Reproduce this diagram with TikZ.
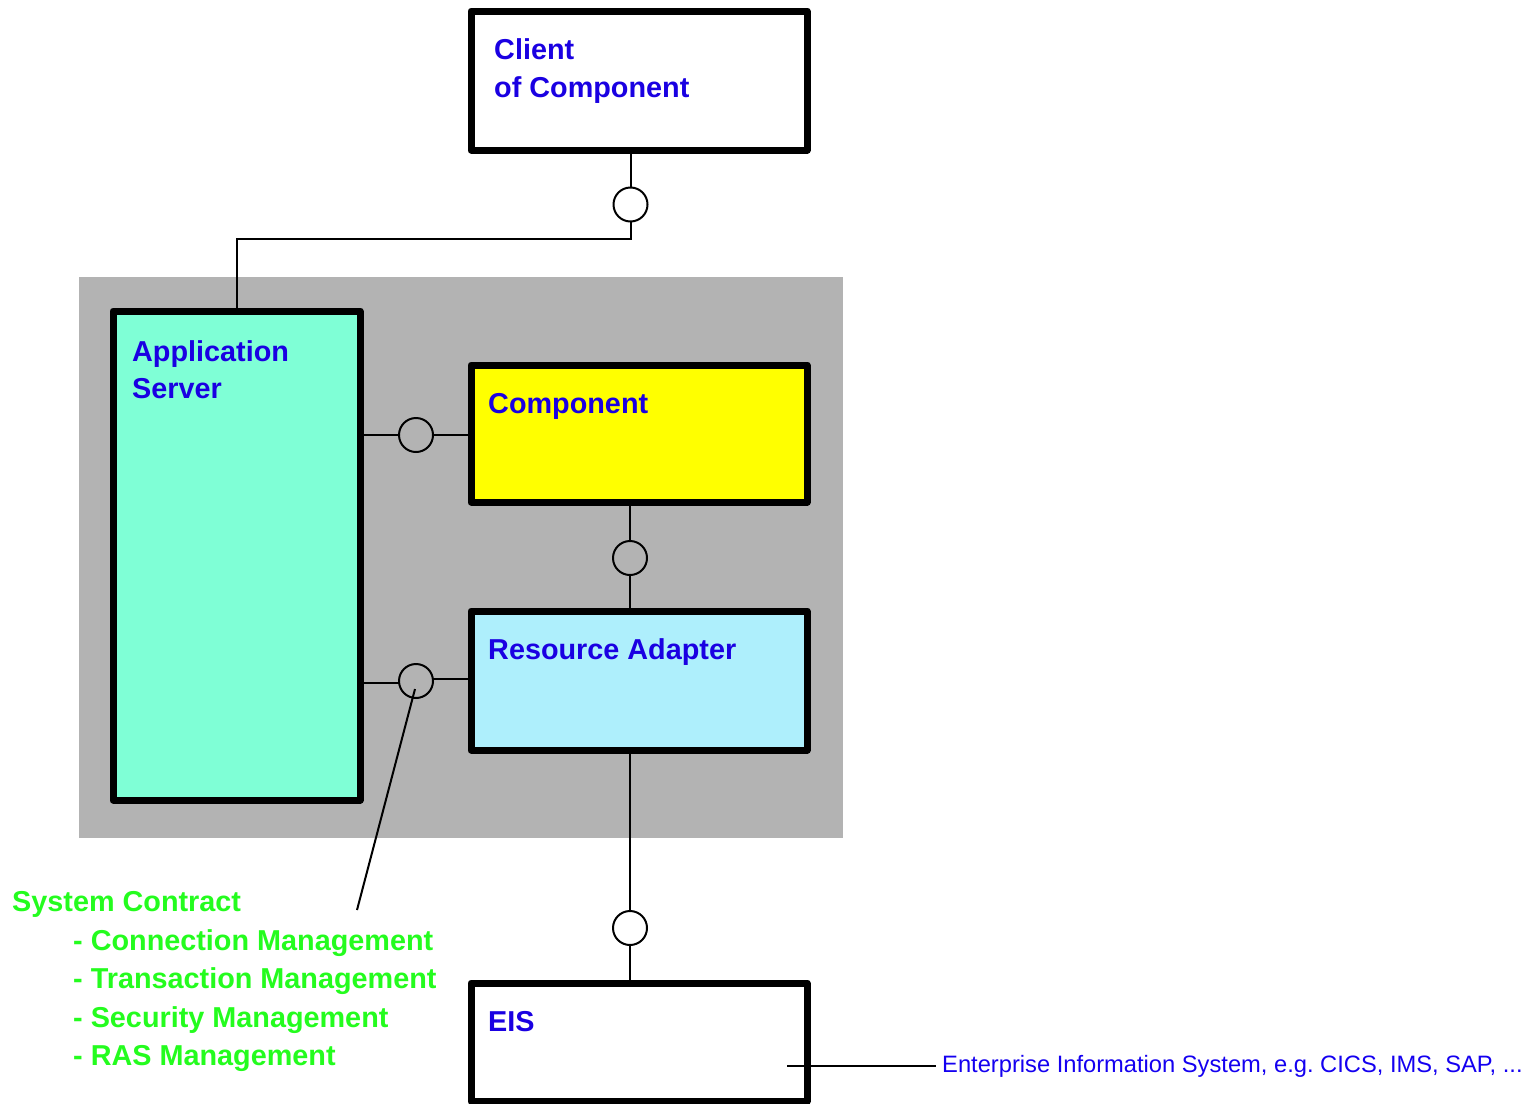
\documentclass[tikz,border=0pt]{standalone}
\usepackage{fontspec}
\setmainfont{Liberation Sans}
\frenchspacing
\definecolor{labelblue}{RGB}{26,0,226}
\definecolor{notegreen}{RGB}{36,252,30}
\definecolor{notelink}{RGB}{20,0,240}
\definecolor{panelgray}{RGB}{179,179,179}
\definecolor{serverfill}{RGB}{127,255,214}
\definecolor{adapterfill}{RGB}{174,239,252}
\definecolor{compfill}{RGB}{255,255,0}
\begin{document}
\begin{tikzpicture}[x=1pt,y=-1pt,
  unitbox/.style={draw=black,line width=7pt,line join=round,rectangle,inner sep=0pt,outer sep=0pt},
  iface/.style={draw=black,line width=2pt,circle,minimum size=34pt,inner sep=0pt,outer sep=0pt},
  wire/.style={draw=black,line width=2pt},
  boxlabel/.style={anchor=base west,inner sep=0pt,text=labelblue,font=\fontsize{28.8}{38}\selectfont\bfseries},
  contract/.style={anchor=base west,inner sep=0pt,text=notegreen,font=\fontsize{28.8}{38}\selectfont\bfseries}
]
\useasboundingbox (0,0) rectangle (1538,1103);

% container panel
\fill[panelgray] (79,277) rectangle (843,838);

% boxes (path centres)
\node[unitbox,fill=white,minimum width=336pt,minimum height=139pt] (client) at (639,80.5) {};
\node[unitbox,fill=serverfill,minimum width=247pt,minimum height=489pt] (app) at (236.5,555.5) {};
\node[unitbox,fill=compfill,minimum width=336pt,minimum height=137pt] (comp) at (639,433.5) {};
\node[unitbox,fill=adapterfill,minimum width=336pt,minimum height=139pt] (ra) at (639,680.5) {};
\node[unitbox,fill=white,minimum width=336pt,minimum height=118pt] (eis) at (639,1042) {};

% interfaces
\node[iface] (c1) at (630.5,204.5) {};
\node[iface] (c2) at (416,435) {};
\node[iface] (c3) at (630,558) {};
\node[iface] (c4) at (416,681) {};
\node[iface] (c5) at (630,928) {};

\coordinate (bend) at (237,239);
\coordinate (callout) at (357,910);

% connectors
\draw[wire] (c1.north) -- (c1.north |- client.south);
\draw[wire] (c1.south) -- (c1.south |- bend) -- (bend) -- ([yshift=-3.5pt]bend |- app.north);
\draw[wire] (c2.west) -- ([xshift=3.5pt]c2 -| app.east);
\draw[wire] (c2.east) -- ([xshift=-3.5pt]c2 -| comp.west);
\draw[wire] (c3.north) -- ([yshift=-3.5pt]c3 |- comp.south);
\draw[wire] (c3.south) -- ([yshift=3.5pt]c3 |- ra.north);
\draw[wire] ([yshift=-2pt]c4.west) -- ([xshift=3.5pt,yshift=-2pt]c4 -| app.east);
\draw[wire] ([yshift=2pt]c4.east) -- ([xshift=-3.5pt,yshift=2pt]c4 -| ra.west);
\draw[wire] ([shift={(-1,8)}]c4.center) -- (callout);
\draw[wire] (c5.north) -- ([yshift=-3.5pt]c5 |- ra.south);
\draw[wire] (c5.south) -- ([yshift=3.5pt]c5 |- eis.north);

% box labels
\node[boxlabel] (clientA) at (494,59) {Client};
\node[boxlabel] (clientB) at (494,97) {of Component};
\node[boxlabel] (appA) at (132,361) {Application};
\node[boxlabel] (appB) at (132,398) {Server};
\node[boxlabel] (compL) at (488,413) {Component};
\node[boxlabel] (raL) at (488,659) {Resource Adapter};
\node[boxlabel] (eisL) at (488,1031) {EIS};

% system contract list
\node[contract] (sc0) at (12,911) {System Contract};
\node[contract] (sc1) at (73,950) {- Connection Management};
\node[contract] (sc2) at (73,988) {- Transaction Management};
\node[contract] (sc3) at (73,1027) {- Security Management};
\node[contract] (sc4) at (73,1065) {- RAS Management};

% EIS note
\node[anchor=base west,inner sep=0pt,inner xsep=6pt,text=notelink,font=\fontsize{23.7}{28}\selectfont] (note) at (936,1072) {Enterprise Information System, e.g. CICS, IMS, SAP, ...};
\draw[wire] ([xshift=-20pt]eis.east |- note.west) -- (note.west);
\end{tikzpicture}
\end{document}
